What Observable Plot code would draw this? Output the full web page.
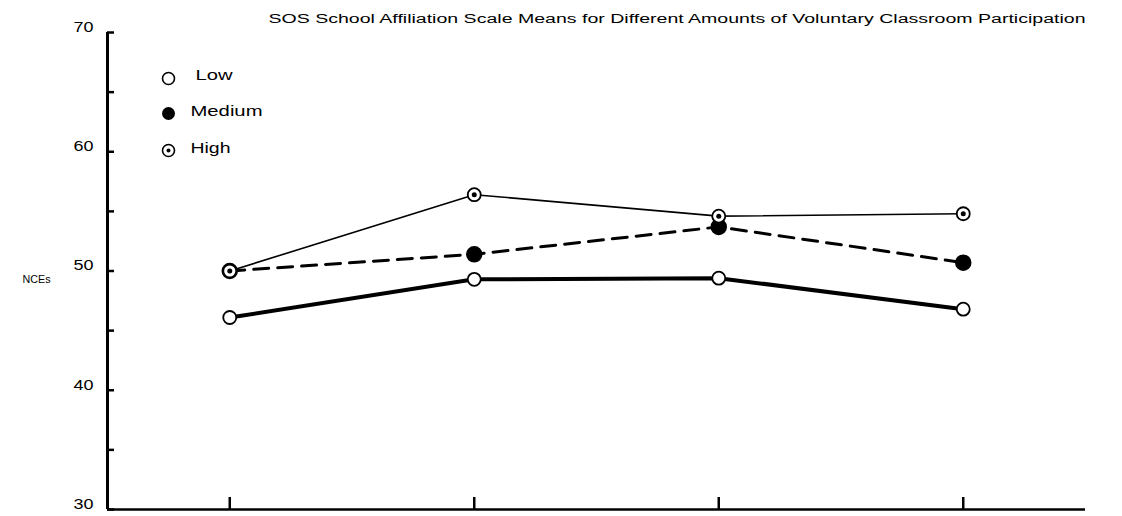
<!DOCTYPE html>
<html>
<head>
<meta charset="utf-8">
<script src="https://cdn.jsdelivr.net/npm/d3@7"></script>
<script src="https://cdn.jsdelivr.net/npm/@observablehq/plot@0.6"></script>
<style>
  html, body { margin: 0; padding: 0; background: #fff; }
  #chart { width: 1122px; height: 516px; }
</style>
</head>
<body>
<div id="chart"></div>
<script>
// ---- data ----
const titleText = "SOS School Affiliation Scale Means for Different Amounts of Voluntary Classroom Participation";
const yAxisLabel = "NCEs";
const categories = [1, 2, 3, 4];                 // four unlabeled x positions
const seriesNames = ["Low", "Medium", "High"];
const lowValues = [46.1, 49.3, 49.4, 46.8];
const mediumValues = [50.0, 51.4, 53.7, 50.7];
const highValues = [50.0, 56.4, 54.6, 54.8];
const yTickLabels = [30, 40, 50, 60, 70];
const yAllTicks = [30, 35, 40, 45, 50, 55, 60, 65, 70];

const rows = (name, vals) => categories.map((c, i) => ({series: name, x: c, y: vals[i]}));
const low = rows("Low", lowValues);
const medium = rows("Medium", mediumValues);
const high = rows("High", highValues);

const font = "'Liberation Sans', Arial, sans-serif";

// legend helpers (layout only)
const legendDx = 61, legendLabelDx = 83, legendDy = [46, 81, 118];

const chart = Plot.plot({
  width: 1122,
  height: 516,
  marginLeft: 107,
  marginRight: 37,
  marginTop: 32,
  marginBottom: 7,
  x: {domain: [0.5, 4.5], axis: null},
  y: {domain: [30, 70], axis: null},
  style: {fontFamily: font, background: "white", color: "black", overflow: "visible"},
  marks: [
    // axis lines
    Plot.ruleX([0.5], {stroke: "black", strokeWidth: 3}),
    Plot.ruleY([30], {stroke: "black", strokeWidth: 2.5}),
    // y ticks pointing inward
    Plot.axisY(yAllTicks, {tickSize: 7, dx: 7, strokeWidth: 2.5, tickFormat: () => "", label: null}),
    // y tick labels
    Plot.axisY(yTickLabels, {tickSize: 0, tickPadding: 14, dy: -5, fontSize: 14, label: null}),
    // x ticks pointing upward
    Plot.axisX(categories, {anchor: "bottom", tickSize: 12, dy: -12, strokeWidth: 2.5, tickFormat: () => "", label: null}),
    // lines
    Plot.line(low, {x: "x", y: "y", stroke: "black", strokeWidth: 4}),
    Plot.line(medium, {x: "x", y: "y", stroke: "black", strokeWidth: 3, strokeDasharray: "15,9"}),
    Plot.line(high, {x: "x", y: "y", stroke: "black", strokeWidth: 1.6}),
    // markers
    Plot.dot(medium, {x: "x", y: "y", r: 7.5, fill: "black", stroke: "black"}),
    Plot.dot(low, {x: "x", y: "y", r: 6.5, fill: "white", stroke: "black", strokeWidth: 1.8}),
    Plot.dot(high, {x: "x", y: "y", r: 6.5, fill: "white", stroke: "black", strokeWidth: 1.8}),
    Plot.dot(high, {x: "x", y: "y", r: 2.5, fill: "black"}),
    // legend
    Plot.dot([seriesNames[0]], {frameAnchor: "top-left", dx: legendDx, dy: legendDy[0], r: 6, fill: "white", stroke: "black", strokeWidth: 1.6}),
    Plot.dot([seriesNames[1]], {frameAnchor: "top-left", dx: legendDx, dy: legendDy[1], r: 6.5, fill: "black"}),
    Plot.dot([seriesNames[2]], {frameAnchor: "top-left", dx: legendDx, dy: legendDy[2], r: 6, fill: "white", stroke: "black", strokeWidth: 1.6}),
    Plot.dot([seriesNames[2]], {frameAnchor: "top-left", dx: legendDx, dy: legendDy[2], r: 2, fill: "black"}),
    Plot.text([seriesNames[0]], {text: d => d, frameAnchor: "top-left", dx: legendLabelDx + 5, dy: legendDy[0] - 8, textAnchor: "start", fontSize: 14}),
    Plot.text([seriesNames[1]], {text: d => d, frameAnchor: "top-left", dx: legendLabelDx, dy: legendDy[1] - 7, textAnchor: "start", fontSize: 14}),
    Plot.text([seriesNames[2]], {text: d => d, frameAnchor: "top-left", dx: legendLabelDx, dy: legendDy[2] - 7, textAnchor: "start", fontSize: 14}),
    // y axis title
    Plot.text([yAxisLabel], {text: d => d, frameAnchor: "left", dx: -71, dy: 8, textAnchor: "middle", fontSize: 11}),
    // chart title
    Plot.text([titleText], {text: d => d, frameAnchor: "top-right", dy: -18, textAnchor: "end", fontSize: 12})
  ]
});

document.getElementById("chart").appendChild(chart);

// stretch the text horizontally like the scanned original
const stretchLen = new Map([
  [titleText, 817],
  [seriesNames[0], 37],
  [seriesNames[1], 72],
  [seriesNames[2], 40],
  [yAxisLabel, 28]
]);
yTickLabels.forEach(v => stretchLen.set(String(v), 20));
d3.select(chart).selectAll("text").each(function() {
  const t = this.textContent;
  if (stretchLen.has(t)) {
    d3.select(this).attr("textLength", stretchLen.get(t)).attr("lengthAdjust", "spacingAndGlyphs");
  }
});
</script>
</body>
</html>
